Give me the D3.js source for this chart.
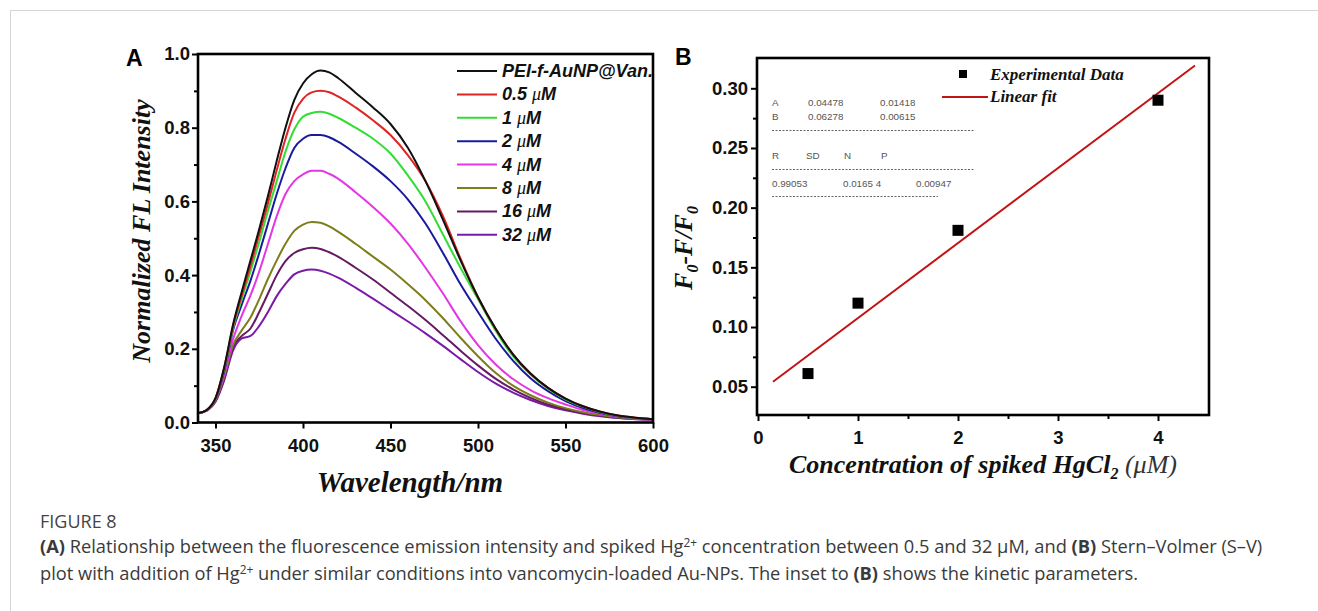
<!DOCTYPE html>
<html>
<head>
<meta charset="utf-8">
<script src="https://cdn.jsdelivr.net/npm/d3@7"></script>
<style>
  html, body { margin: 0; padding: 0; background: #fff; }
  svg { display: block; }
</style>
</head>
<body>
<svg id="fig" width="1318" height="611"></svg>
<script>
// ---- Panel A: normalized fluorescence spectra ----
const wavelengths = [340,345,350,355,360,365,370,375,380,385,390,395,400,405,410,415,420,430,440,450,460,470,480,490,500,510,520,530,540,550,560,570,580,590,600];
const seriesNames = ["PEI-f-AuNP@Van.", "0.5 μM", "1 μM", "2 μM", "4 μM", "8 μM", "16 μM", "32 μM"];
const seriesColors = ["#111111", "#e02424", "#33dd33", "#1a1a9c", "#e436e4", "#7d7d1c", "#651b63", "#7a1aa8"];
const intensityControl = [.025,.034,.066,.15,.265,.355,.44,.525,.615,.71,.80,.875,.92,.945,.955,.95,.935,.895,.855,.81,.745,.655,.55,.44,.34,.255,.185,.133,.094,.065,.044,.029,.019,.013,.009];
const intensity05 = [.025,.034,.066,.15,.26,.345,.425,.51,.595,.685,.77,.84,.878,.896,.90,.896,.885,.855,.82,.78,.725,.655,.56,.445,.34,.255,.185,.133,.094,.065,.044,.029,.019,.013,.009];
const intensity1 = [.025,.034,.065,.145,.255,.335,.41,.49,.575,.655,.735,.795,.83,.84,.843,.838,.827,.80,.77,.73,.67,.60,.51,.42,.335,.25,.18,.13,.092,.063,.043,.028,.018,.012,.009];
const intensity2 = [.025,.034,.064,.14,.25,.32,.385,.46,.54,.62,.69,.745,.77,.78,.78,.774,.762,.73,.695,.655,.605,.54,.46,.375,.30,.228,.168,.12,.085,.058,.039,.026,.017,.012,.009];
const intensity4 = [.025,.033,.062,.13,.225,.29,.345,.41,.485,.56,.62,.655,.673,.683,.683,.675,.662,.625,.585,.54,.485,.42,.35,.275,.21,.158,.118,.088,.066,.049,.034,.024,.016,.011,.008];
const intensity8 = [.025,.033,.06,.125,.21,.25,.285,.335,.39,.44,.485,.52,.537,.544,.542,.532,.518,.485,.45,.415,.375,.332,.283,.23,.18,.135,.10,.074,.054,.039,.028,.02,.014,.01,.008];
const intensity16 = [.025,.032,.058,.12,.205,.235,.255,.30,.35,.40,.438,.46,.47,.474,.471,.462,.45,.42,.388,.352,.316,.278,.237,.195,.155,.119,.09,.067,.049,.036,.026,.019,.013,.01,.008];
const intensity32 = [.025,.032,.056,.115,.195,.228,.235,.262,.30,.343,.376,.402,.412,.415,.412,.404,.393,.366,.336,.305,.274,.242,.208,.172,.137,.106,.081,.061,.045,.033,.024,.017,.012,.009,.007];
const spectra = [intensityControl, intensity05, intensity1, intensity2, intensity4, intensity8, intensity16, intensity32];
const xTicksA = [350, 400, 450, 500, 550, 600];
const yTicksA = [0.0, 0.2, 0.4, 0.6, 0.8, 1.0];
const yMinorA = [0.1, 0.3, 0.5, 0.7, 0.9];

// ---- Panel B: Stern–Volmer plot ----
const concentrations = [0.5, 1, 2, 4];
const quenching = [0.061, 0.120, 0.181, 0.290];
const fitIntercept = 0.04478;
const fitSlope = 0.06278;
const fitRange = [0.15, 4.37];
const xTicksB = [0, 1, 2, 3, 4];
const xMinorB = [0.5, 1.5, 2.5, 3.5];
const yTicksB = [0.05, 0.10, 0.15, 0.20, 0.25, 0.30];
const yMinorB = [0.075, 0.125, 0.175, 0.225, 0.275];
const insetRows = [
  [["A", 0], ["0.04478", 36], ["0.01418", 108]],
  [["B", 0], ["0.06278", 36], ["0.00615", 108]]
];
const insetHeader = [["R", 0], ["SD", 34], ["N", 72], ["P", 109]];
const insetValues = [["0.99053", 0], ["0.0165 4", 71], ["0.00947", 144]];

const svg = d3.select("#fig");
const SANS = "'Liberation Sans', Arial, sans-serif";
const SERIF = "'Liberation Serif', 'Times New Roman', serif";
const TICK_FONT = 18.5;

// light frame around the figure
svg.append("line").attr("x1", 10).attr("x2", 1318).attr("y1", 10.5).attr("y2", 10.5)
  .attr("stroke", "#d6d6d6").attr("stroke-width", 1);
svg.append("line").attr("x1", 10.5).attr("x2", 10.5).attr("y1", 10).attr("y2", 611)
  .attr("stroke", "#d6d6d6").attr("stroke-width", 1);

function styleAxis(g) {
  g.select(".domain").remove();
  g.selectAll(".tick line").attr("stroke", "#000").attr("stroke-width", 2);
  g.selectAll(".tick text").attr("font-family", SANS).attr("font-weight", "bold")
    .attr("font-size", TICK_FONT).attr("fill", "#111");
}

// ================= Panel A =================
const A = { left: 198, right: 653, top: 54, bottom: 422.5 };
const xA = d3.scaleLinear().domain([340, 600]).range([A.left, A.right]);
const yA = d3.scaleLinear().domain([0, 1.0]).range([A.bottom, A.top]);

const gA = svg.append("g");
const lineA = d3.line().x(d => xA(d[0])).y(d => yA(d[1])).curve(d3.curveMonotoneX);
spectra.slice().reverse().forEach((vals, ri) => {
  const i = spectra.length - 1 - ri;
  gA.append("path")
    .datum(wavelengths.map((w, k) => [w, vals[k]]))
    .attr("d", lineA)
    .attr("fill", "none")
    .attr("stroke", seriesColors[i])
    .attr("stroke-width", 2)
    .attr("stroke-linejoin", "round");
});

gA.append("g").attr("transform", `translate(0,${A.bottom})`)
  .call(d3.axisBottom(xA).tickValues(xTicksA).tickSize(6).tickPadding(10).tickFormat(d3.format("d")))
  .call(styleAxis);
gA.append("g").attr("transform", `translate(${A.left},0)`)
  .call(d3.axisLeft(yA).tickValues(yTicksA).tickSize(6).tickPadding(2).tickFormat(d3.format(".1f")))
  .call(styleAxis);
gA.append("g").attr("transform", `translate(${A.left},0)`)
  .call(d3.axisLeft(yA).tickValues(yMinorA).tickSize(4).tickFormat(""))
  .call(styleAxis);

gA.append("rect").attr("x", A.left).attr("y", A.top)
  .attr("width", A.right - A.left).attr("height", A.bottom - A.top)
  .attr("fill", "none").attr("stroke", "#000").attr("stroke-width", 2.6);

// legend A
seriesNames.forEach((name, i) => {
  const y = 71 + i * 23.4;
  gA.append("line").attr("x1", 457).attr("x2", 497).attr("y1", y).attr("y2", y)
    .attr("stroke", seriesColors[i]).attr("stroke-width", 2);
  const t = gA.append("text").attr("x", 502).attr("y", y + 6)
    .attr("font-family", SANS).attr("font-weight", "bold").attr("font-style", "italic")
    .attr("font-size", 18).attr("fill", "#111");
  const parts = name.split("μ");
  t.append("tspan").text(parts[0]);
  if (parts.length > 1) {
    t.append("tspan").attr("font-family", SERIF).attr("font-weight", "normal").text("μ");
    t.append("tspan").text(parts[1]);
  }
});

gA.append("text").attr("x", 126).attr("y", 66)
  .attr("font-family", SANS).attr("font-weight", "bold").attr("font-size", 23).text("A");

gA.append("text")
  .attr("transform", `translate(150,231) rotate(-90)`)
  .attr("text-anchor", "middle")
  .attr("font-family", SERIF).attr("font-weight", "bold").attr("font-style", "italic")
  .attr("font-size", 26).attr("fill", "#111").text("Normalized FL Intensity");

gA.append("text").attr("x", 410).attr("y", 492).attr("text-anchor", "middle")
  .attr("font-family", SERIF).attr("font-weight", "bold").attr("font-style", "italic")
  .attr("font-size", 29).attr("fill", "#111").text("Wavelength/nm");

// ================= Panel B =================
const B = { left: 757, right: 1209, top: 58, bottom: 415 };
const xB = d3.scaleLinear().domain([0, 4.51]).range([758, B.right]);
const yB = d3.scaleLinear().domain([0.05, 0.30]).range([386.7, 88.3]);

const gB = svg.append("g");

gB.append("g").attr("transform", `translate(0,${B.bottom})`)
  .call(d3.axisBottom(xB).tickValues(xTicksB).tickSize(6).tickPadding(10).tickFormat(d3.format("d")))
  .call(styleAxis);
gB.append("g").attr("transform", `translate(0,${B.bottom})`)
  .call(d3.axisBottom(xB).tickValues(xMinorB).tickSize(4).tickFormat(""))
  .call(styleAxis);
gB.append("g").attr("transform", `translate(${B.left},0)`)
  .call(d3.axisLeft(yB).tickValues(yTicksB).tickSize(6).tickPadding(3).tickFormat(d3.format(".2f")))
  .call(styleAxis);
gB.append("g").attr("transform", `translate(${B.left},0)`)
  .call(d3.axisLeft(yB).tickValues(yMinorB).tickSize(4).tickFormat(""))
  .call(styleAxis);

gB.append("rect").attr("x", B.left).attr("y", B.top)
  .attr("width", B.right - B.left).attr("height", B.bottom - B.top)
  .attr("fill", "none").attr("stroke", "#000").attr("stroke-width", 2.6);

// fitted line
gB.append("line")
  .attr("x1", xB(fitRange[0])).attr("y1", yB(fitIntercept + fitSlope * fitRange[0]))
  .attr("x2", xB(fitRange[1])).attr("y2", yB(fitIntercept + fitSlope * fitRange[1]))
  .attr("stroke", "#c21414").attr("stroke-width", 2);

// experimental points
gB.selectAll("rect.pt").data(concentrations).enter().append("rect")
  .attr("class", "pt")
  .attr("x", (d) => xB(d) - 5.5).attr("y", (d, i) => yB(quenching[i]) - 5.5)
  .attr("width", 11).attr("height", 11).attr("fill", "#000");

// inset of fit parameters
const inset = gB.append("g").attr("font-family", SANS).attr("font-size", 9.8).attr("fill", "#555");
insetRows.forEach((row, r) => {
  row.forEach(([txt, dx]) => inset.append("text").attr("x", 772 + dx).attr("y", 106 + r * 13.5).text(txt));
});
insetHeader.forEach(([txt, dx]) => inset.append("text").attr("x", 772 + dx).attr("y", 159).text(txt));
insetValues.forEach(([txt, dx]) => inset.append("text").attr("x", 772 + dx).attr("y", 186.5).text(txt));
[[130.5, 975], [169.5, 975], [196.5, 938]].forEach(([y, x2]) => {
  gB.append("line").attr("x1", 772).attr("x2", x2).attr("y1", y).attr("y2", y)
    .attr("stroke", "#666").attr("stroke-width", 1).attr("stroke-dasharray", "2,1.5");
});

// legend B
gB.append("rect").attr("x", 959).attr("y", 70).attr("width", 8).attr("height", 8).attr("fill", "#000");
gB.append("text").attr("x", 990).attr("y", 80)
  .attr("font-family", SERIF).attr("font-weight", "bold").attr("font-style", "italic")
  .attr("font-size", 17).attr("fill", "#111").text("Experimental Data");
gB.append("line").attr("x1", 942).attr("x2", 988).attr("y1", 97).attr("y2", 97)
  .attr("stroke", "#c21414").attr("stroke-width", 2);
gB.append("text").attr("x", 990).attr("y", 102)
  .attr("font-family", SERIF).attr("font-weight", "bold").attr("font-style", "italic")
  .attr("font-size", 17).attr("fill", "#111").text("Linear fit");

gB.append("text").attr("x", 675).attr("y", 65)
  .attr("font-family", SANS).attr("font-weight", "bold").attr("font-size", 23).text("B");

// y label: F0-F/F0
const yLabB = gB.append("text")
  .attr("transform", `translate(692,248) rotate(-90)`)
  .attr("text-anchor", "middle")
  .attr("font-family", SERIF).attr("font-weight", "bold").attr("font-style", "italic")
  .attr("font-size", 26).attr("fill", "#111");
yLabB.append("tspan").text("F");
yLabB.append("tspan").attr("font-size", 16).attr("dy", 6).text("0");
yLabB.append("tspan").attr("dy", -6).text("-F/F");
yLabB.append("tspan").attr("font-size", 16).attr("dy", 6).text("0");

// x label
const xLabB = gB.append("text").attr("x", 983).attr("y", 473).attr("text-anchor", "middle")
  .attr("font-family", SERIF).attr("font-weight", "bold").attr("font-style", "italic")
  .attr("font-size", 26).attr("fill", "#111");
xLabB.append("tspan").text("Concentration of spiked HgCl");
xLabB.append("tspan").attr("font-size", 16).attr("dy", 6).text("2");
xLabB.append("tspan").attr("dy", -6).attr("font-weight", "normal").attr("fill", "#333").text(" (μM)");

// ================= Caption =================
const cap = svg.append("g").attr("font-family", "'Open Sans', 'Noto Sans', sans-serif").attr("fill", "#3a3a3a");
cap.append("text").attr("x", 40).attr("y", 528).attr("font-size", 18).attr("font-weight", 500)
  .attr("fill", "#444").text("FIGURE 8");

function captionLine(y, pieces) {
  const t = cap.append("text").attr("x", 40).attr("y", y).attr("font-size", 15);
  pieces.forEach(p => {
    const s = t.append("tspan").text(p.t);
    if (p.b) s.attr("font-weight", "bold");
    if (p.sup) s.attr("font-size", "0.65em").attr("dy", -6);
    if (p.down) s.attr("dy", 6);
  });
  return t;
}
const cap1 = captionLine(553, [
  { t: "(A)", b: true },
  { t: " Relationship between the fluorescence emission intensity and spiked Hg" },
  { t: "2+", sup: true },
  { t: " concentration between 0.5 and 32 μM, and ", down: true },
  { t: "(B)", b: true },
  { t: " Stern–Volmer (S–V)" }
]);
const cap2 = captionLine(580, [
  { t: "plot with addition of Hg" },
  { t: "2+", sup: true },
  { t: " under similar conditions into vancomycin-loaded Au-NPs. The inset to ", down: true },
  { t: "(B)", b: true },
  { t: " shows the kinetic parameters." }
]);
// size the caption text so the first line spans the text column
const capWidth = cap1.node().getComputedTextLength();
const capSize = 15 * 1223 / capWidth;
cap1.attr("font-size", capSize);
cap2.attr("font-size", capSize);
</script>
</body>
</html>
